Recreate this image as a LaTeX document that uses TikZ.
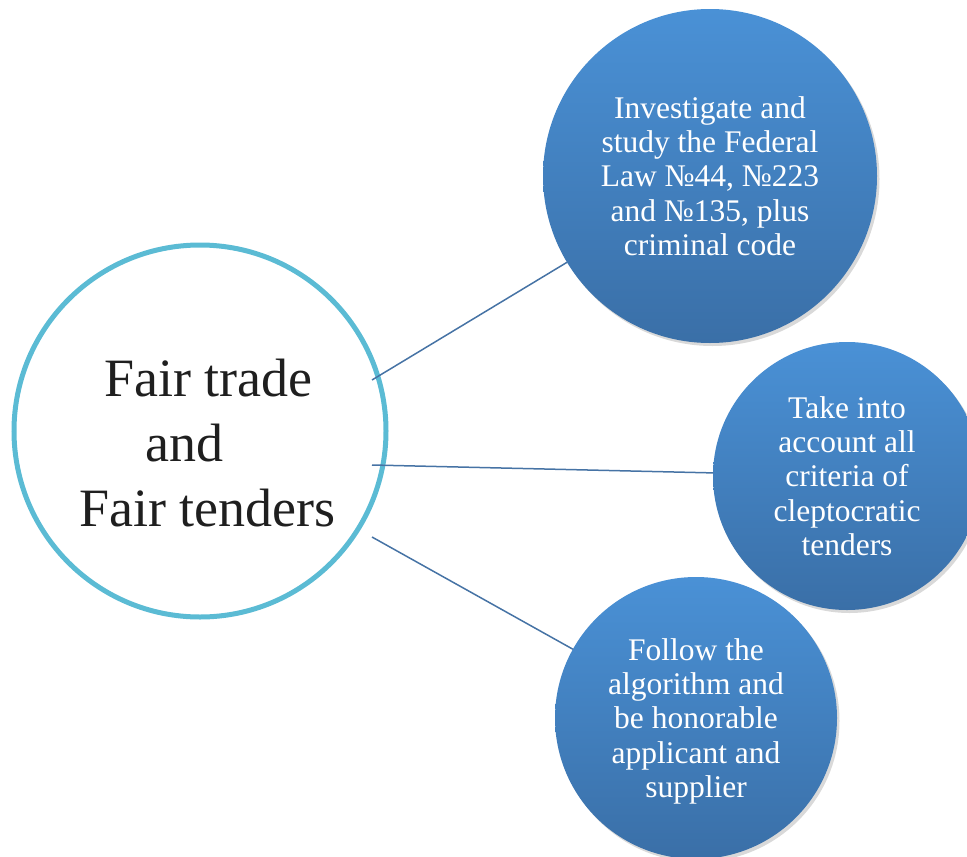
\documentclass[tikz,border=0pt]{standalone}
\usepackage{fontspec}
\setmainfont{Liberation Serif}
\usetikzlibrary{shadows}
\definecolor{ringc}{RGB}{91,187,212}
\definecolor{linkc}{RGB}{70,115,165}
\definecolor{topc}{RGB}{74,145,214}
\definecolor{botc}{RGB}{58,111,167}
\begin{document}
\begin{tikzpicture}[x=1pt,y=-1pt,
  bubble/.style={circle, minimum size=#1, inner sep=0pt, outer sep=0pt,
    top color=topc, bottom color=botc, text=white, text depth=0pt,
    font=\fontsize{31.5}{34.2}\selectfont, align=center,
    drop shadow={opacity=0.3, shadow xshift=2.5pt, shadow yshift=-3pt}},
  ring/.style={circle, draw=ringc, line width=5pt, minimum size=372pt, inner sep=0pt, outer sep=0pt},
  hubtxt/.style={anchor=west, align=left, font=\fontsize{54}{65}\selectfont, text=black!88},
  link/.style={draw=linkc, line width=1.5pt}]
\useasboundingbox (0,0) rectangle (967,857);
\node[ring] (hub) at (200,431) {};
\node[hubtxt] (hubtext) at (76,443.5) {\hspace*{25pt}Fair trade\\\hspace*{66pt}and\\Fair tenders};
\coordinate (s1) at (372,380);
\coordinate (s2) at (372,465);
\coordinate (s3) at (372,537);
\node[bubble=334pt] (b1) at (710,176) {Investigate and\\study the Federal\\Law №44, №223\\and №135, plus\\criminal code};
\node[bubble=268pt] (b2) at (847,476) {Take into\\account all\\criteria of\\cleptocratic\\tenders};
\node[bubble=282pt] (b3) at (696,718) {Follow the\\algorithm and\\be honorable\\applicant and\\supplier};
\draw[link] (s1) -- (b1);
\draw[link] (s2) -- (b2);
\draw[link] (s3) -- (b3);
\end{tikzpicture}
\end{document}
